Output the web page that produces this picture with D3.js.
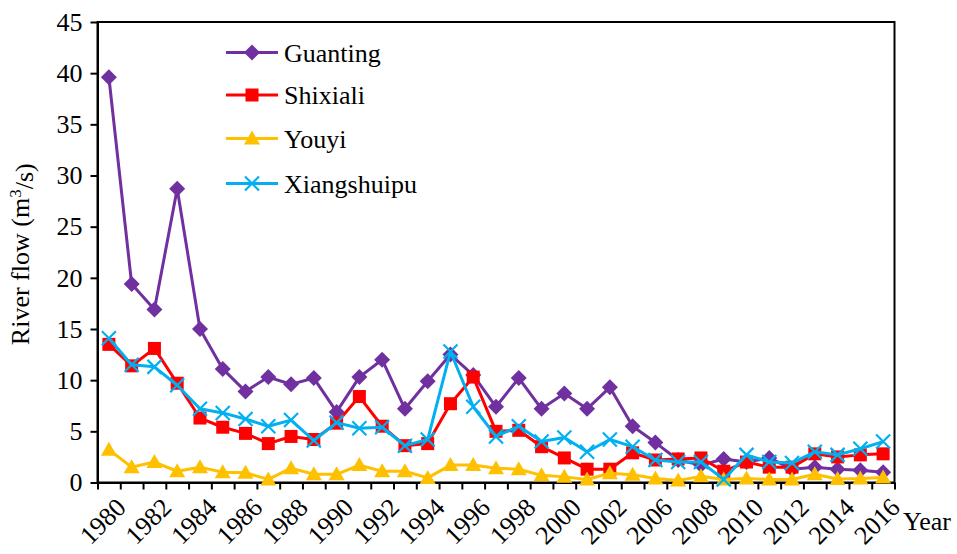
<!DOCTYPE html>
<html><head><meta charset="utf-8">
<script src="https://cdn.jsdelivr.net/npm/d3@7"></script>
<style>
body{margin:0;background:#fff;}
text{font-family:"Liberation Serif","Times New Roman",Times,serif;fill:#000;}
</style></head>
<body><svg id="c" width="957" height="554"></svg>
<script>
const years = [1980,1981,1982,1983,1984,1985,1986,1987,1988,1989,1990,1991,1992,1993,1994,1995,1996,1997,1998,1999,2000,2001,2002,2004,2006,2007,2008,2009,2010,2011,2012,2013,2014,2015,2016];
const guanting = [39.6,19.4,16.9,28.7,15.0,11.1,8.9,10.3,9.6,10.2,6.9,10.3,12.0,7.2,9.9,12.5,10.5,7.4,10.2,7.2,8.7,7.2,9.3,5.5,3.9,2.2,1.7,2.3,2.0,2.4,1.3,1.5,1.3,1.2,1.0];
const shixiali = [13.5,11.4,13.1,9.7,6.3,5.4,4.8,3.8,4.5,4.2,5.8,8.4,5.5,3.6,3.8,7.7,10.3,5.0,5.1,3.5,2.4,1.3,1.3,2.9,2.2,2.3,2.4,1.1,2.0,1.5,1.5,2.8,2.5,2.7,2.8];
const youyi = [3.2,1.5,2.0,1.1,1.5,1.0,0.95,0.3,1.4,0.8,0.8,1.7,1.1,1.1,0.45,1.7,1.7,1.4,1.3,0.7,0.55,0.3,0.9,0.75,0.4,0.2,0.6,0.3,0.4,0.3,0.3,0.8,0.35,0.4,0.5];
const xiangshuipu = [14.1,11.5,11.3,9.5,7.2,6.8,6.2,5.5,6.1,4.1,5.85,5.3,5.4,3.6,4.2,12.8,7.4,4.5,5.5,4.0,4.4,3.0,4.2,3.5,2.2,2.0,2.0,0.3,2.7,2.0,1.9,3.0,2.7,3.3,4.0];
const seriesNames = ["Guanting","Shixiali","Youyi","Xiangshuipu"];
const seriesColors = ["#7030A0","#FF0000","#FFC000","#00B0F0"];
const seriesMarkers = ["diamond","square","triangle","x"];
const yTicks = [0,5,10,15,20,25,30,35,40,45];
const xLabelStep = 2;

const FONT = '"Liberation Serif","Times New Roman",Times,serif';
const FS = 26;
const svg = d3.select("#c");
const L = 97.5, R = 894.5, T = 22, B = 482.5;
const x = d3.scaleBand().domain(years).range([L, R]).paddingInner(0).paddingOuter(0);
const xb = d3.scaleLinear().domain([0, years.length]).range([L, R]);
const y = d3.scaleLinear().domain([0, 45]).range([B, T]);
const cx = d => x(d) + x.bandwidth()/2;

svg.append("rect").attr("x",L).attr("y",T).attr("width",R-L).attr("height",B-T)
  .attr("fill","none").attr("stroke","#000").attr("stroke-width",2);

const ya = svg.append("g").attr("transform",`translate(${L},0)`)
  .call(d3.axisLeft(y).tickValues(yTicks).tickSize(7).tickSizeOuter(0).tickPadding(8));
ya.attr("font-family", FONT).attr("font-size", FS);
ya.select(".domain").attr("stroke","#000").attr("stroke-width",2);
ya.selectAll(".tick line").attr("stroke","#000").attr("stroke-width",2);
ya.selectAll(".tick text").attr("fill","#000");

const xa = svg.append("g").attr("transform",`translate(0,${B})`)
  .call(d3.axisBottom(xb).tickValues(d3.range(years.length+1)).tickSize(7).tickSizeOuter(0).tickFormat(""));
xa.select(".domain").attr("stroke","#000").attr("stroke-width",2);
xa.selectAll(".tick line").attr("stroke","#000").attr("stroke-width",2);

svg.append("g").selectAll("text").data(years.filter((d,i)=>i%xLabelStep===0)).join("text")
  .attr("transform", d => `translate(${cx(d)+12},${B+20}) rotate(-45)`)
  .attr("text-anchor","end").attr("dy","0.35em")
  .attr("font-family", FONT).attr("font-size", FS).text(d=>d);

svg.append("text").attr("x",903).attr("y",530).attr("font-family", FONT).attr("font-size", FS).text("Year");

const yl = svg.append("text").attr("transform",`translate(29,${(T+B)/2 + 2}) rotate(-90)`)
  .attr("text-anchor","middle").attr("font-family", FONT).attr("font-size", FS);
yl.append("tspan").text("River flow (m");
yl.append("tspan").attr("dy","-0.45em").attr("font-size", 17).text("3");
yl.append("tspan").attr("dy","0.45em").text("/s)");

function marker(g, type, color, px, py){
  if(type==="diamond"){
    g.append("path").attr("d",`M${px},${py-8}L${px+8},${py}L${px},${py+8}L${px-8},${py}Z`).attr("fill",color);
  } else if(type==="square"){
    g.append("rect").attr("x",px-6.5).attr("y",py-6.5).attr("width",13).attr("height",13).attr("fill",color);
  } else if(type==="triangle"){
    g.append("path").attr("d",`M${px},${py-8}L${px+8},${py+6}L${px-8},${py+6}Z`).attr("fill",color);
  } else {
    g.append("path").attr("d",`M${px-7},${py-7}L${px+7},${py+7}M${px-7},${py+7}L${px+7},${py-7}`)
      .attr("stroke",color).attr("stroke-width",2.2).attr("fill","none");
  }
}

const allData = [guanting, shixiali, youyi, xiangshuipu];
const line = d3.line().x((d,i)=>cx(years[i])).y(d=>y(d));
allData.forEach((vals, si) => {
  const g = svg.append("g");
  g.append("path").datum(vals).attr("d", line).attr("fill","none")
    .attr("stroke", seriesColors[si]).attr("stroke-width",3).attr("stroke-linejoin","round");
  vals.forEach((v,i) => marker(g, seriesMarkers[si], seriesColors[si], cx(years[i]), y(v)));
});

const legY = [52.5, 95, 138.5, 183.5];
seriesNames.forEach((n, si) => {
  const g = svg.append("g");
  g.append("line").attr("x1",226).attr("x2",278).attr("y1",legY[si]).attr("y2",legY[si])
    .attr("stroke",seriesColors[si]).attr("stroke-width",3);
  marker(g, seriesMarkers[si], seriesColors[si], 252, legY[si]);
  g.append("text").attr("x",284).attr("y",legY[si]).attr("dy","0.35em")
    .attr("font-family", FONT).attr("font-size", FS).text(n);
});
</script></body></html>
